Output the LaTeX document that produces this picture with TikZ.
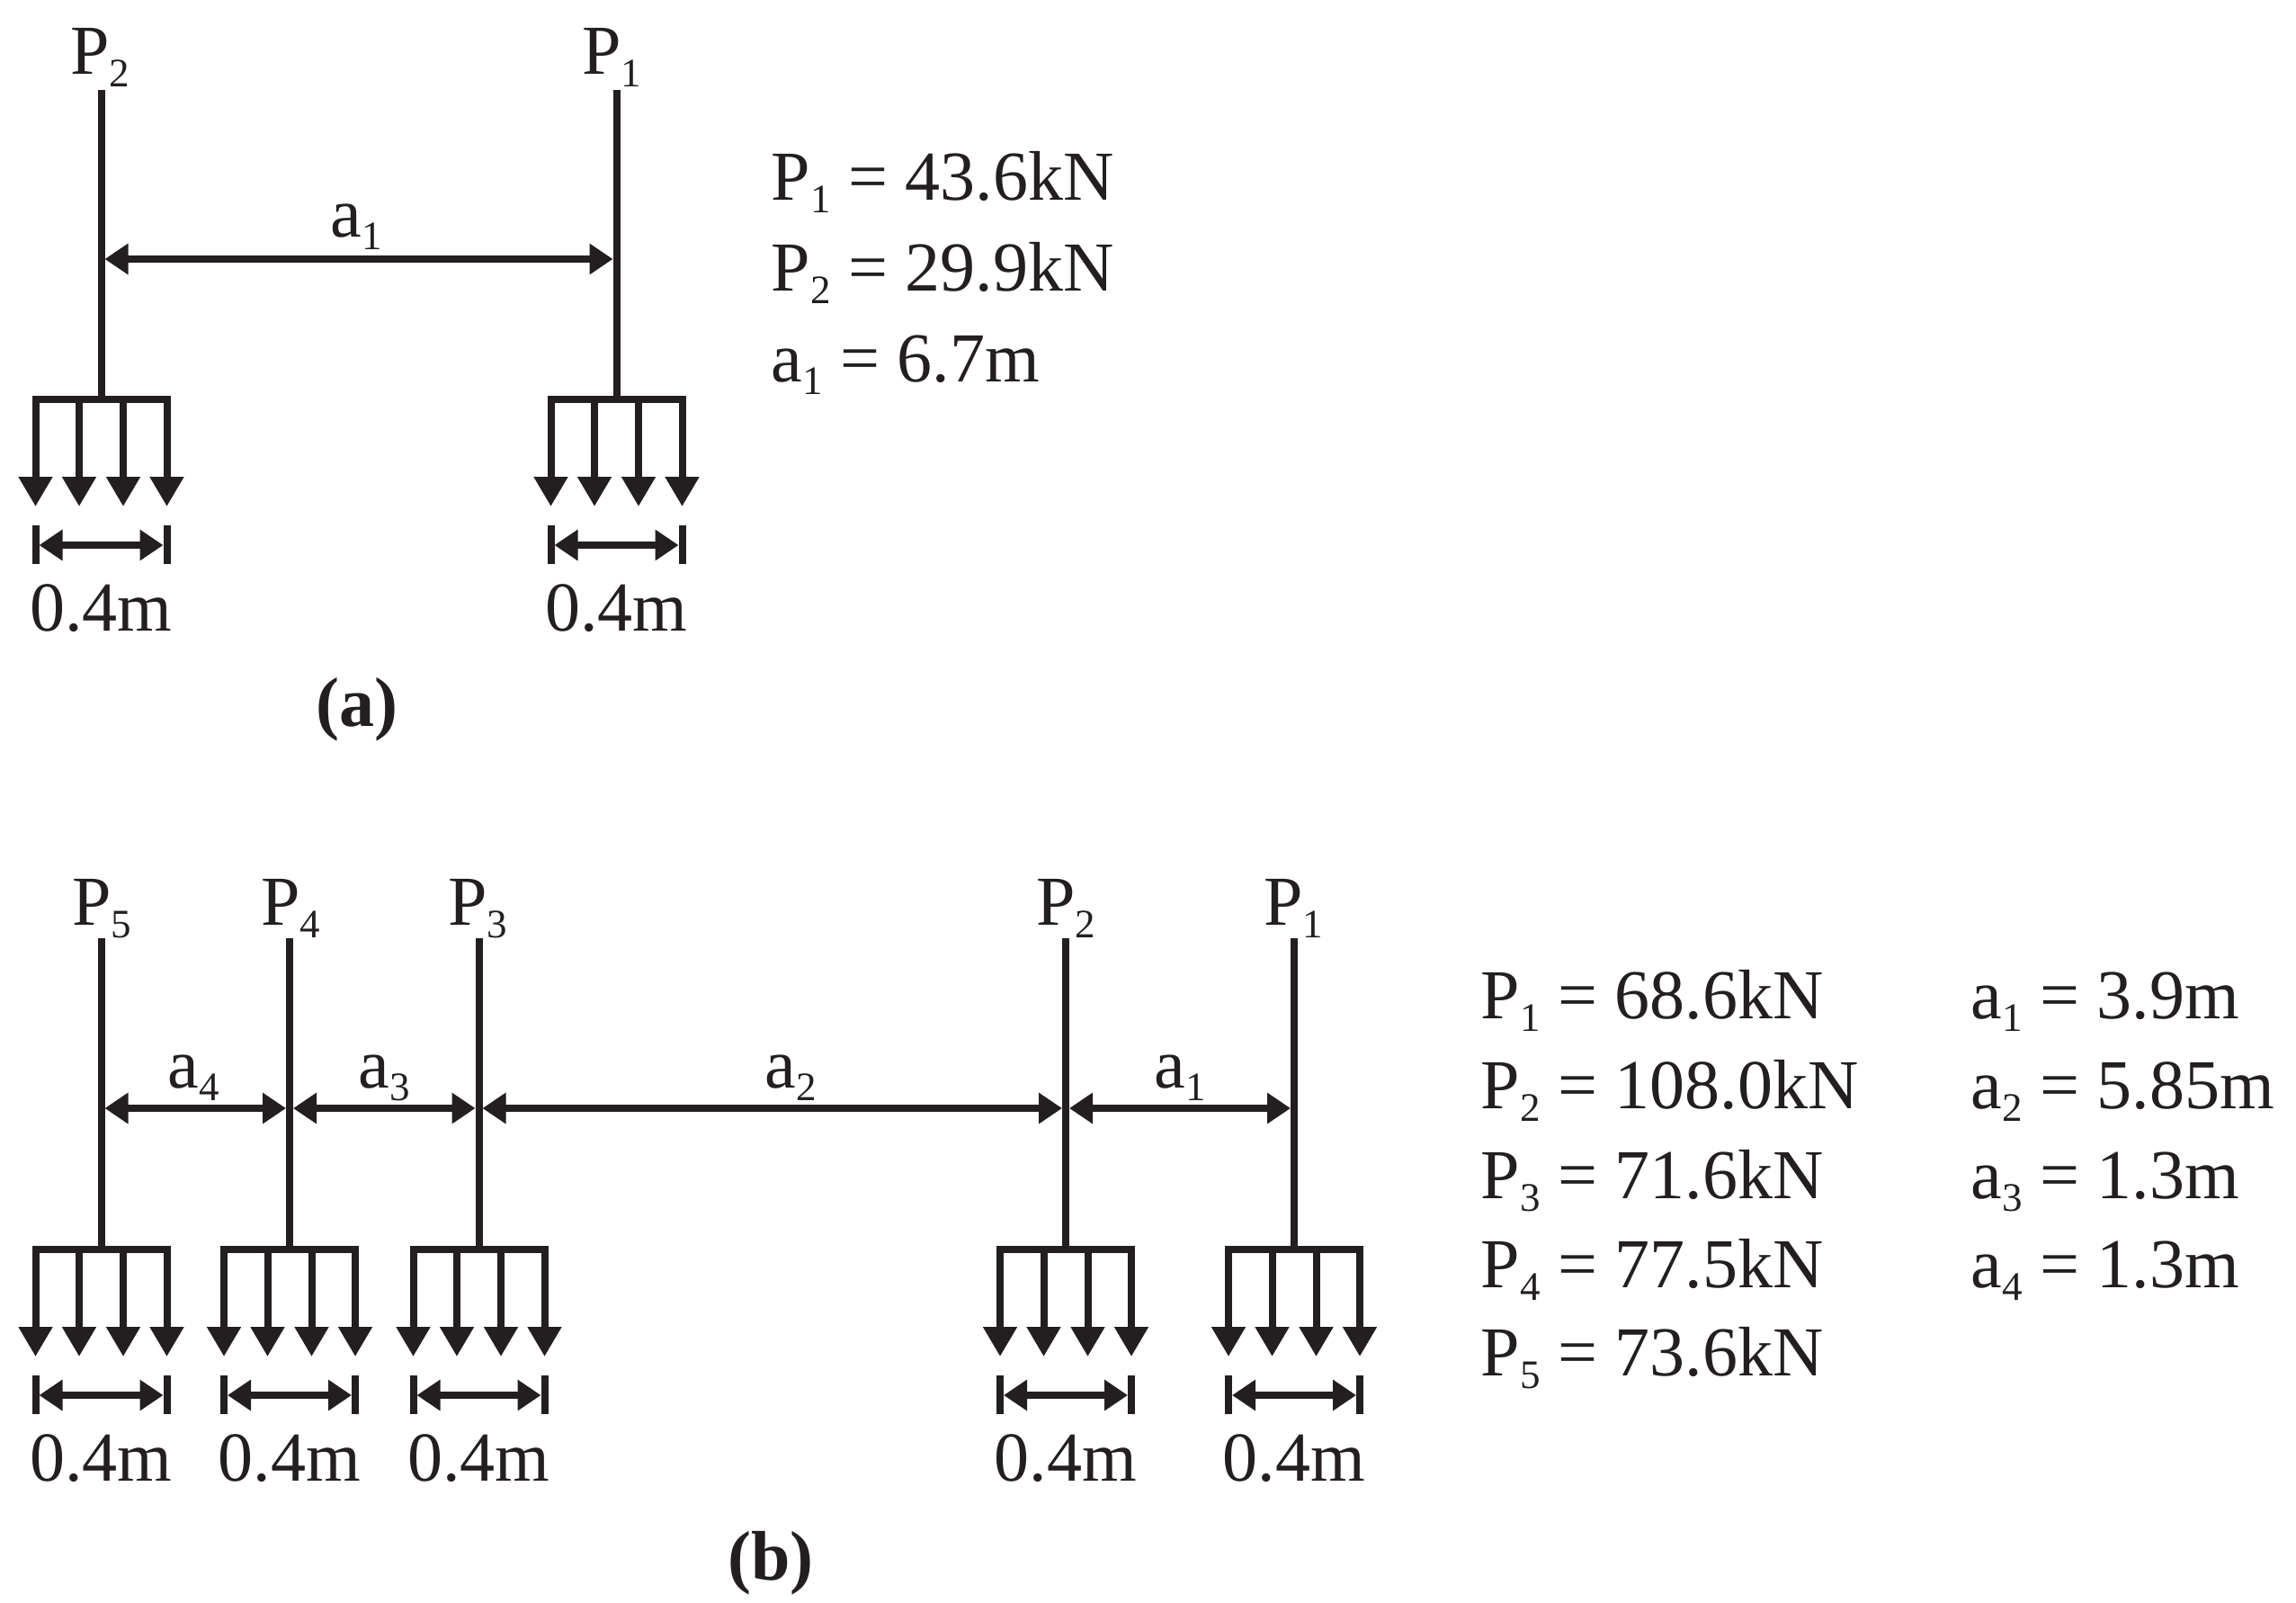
\documentclass[tikz,border=0pt]{standalone}
\usepackage{fontspec}
\setmainfont{Liberation Serif}
\usetikzlibrary{arrows.meta}
\definecolor{inkc}{HTML}{231F20}
\newcommand{\lsub}[1]{\raisebox{-0.19em}{\fontsize{12.8pt}{12.8pt}\selectfont #1}}
\tikzset{lbl/.style = {inner sep=0pt,text=inkc,font=\fontsize{22.2pt}{26pt}\selectfont}}
\tikzset{stem/.style = {draw=inkc,line width=0.08cm}}
\tikzset{prong/.style = {stem,-{Triangle[length=0.33cm,width=0.36cm]}}}
\tikzset{span/.style = {stem,{Triangle[length=0.26cm,width=0.33cm]}-{Triangle[length=0.26cm,width=0.33cm]},shorten <=0.04cm,shorten >=0.04cm}}
\tikzset{fork/.pic = {
    \coordinate (left) at (-0.73,0);
    \coordinate (right) at (0.73,0);
    \coordinate (in1) at (-0.245,0);
    \coordinate (in2) at (0.245,0);
    \coordinate (tip1) at (-0.73,-1.19);
    \coordinate (tip2) at (-0.245,-1.19);
    \coordinate (tip3) at (0.245,-1.19);
    \coordinate (tip4) at (0.73,-1.19);
    \coordinate (tl1) at (-0.73,-1.40);
    \coordinate (tl2) at (-0.73,-1.83);
    \coordinate (tr1) at (0.73,-1.40);
    \coordinate (tr2) at (0.73,-1.83);
    \coordinate (dl) at (-0.73,-1.62);
    \coordinate (dr) at (0.73,-1.62);
    \draw[stem,line cap=rect] (left) -- (right);
    \draw[prong] (left) -- (tip1);
    \draw[prong] (in1) -- (tip2);
    \draw[prong] (in2) -- (tip3);
    \draw[prong] (right) -- (tip4);
    \draw[stem] (tl1) -- (tl2);
    \draw[stem] (tr1) -- (tr2);
    \draw[span] (dl) -- (dr);
    \node[lbl,anchor=base] (width) at (0,-2.57) {0.4m};
}}
\begin{document}
\begin{tikzpicture}
    \useasboundingbox (0,0) rectangle (25.53,-17.81);
    % upper case
    \node[lbl,anchor=base] (P2a) at (1.11,-0.82) {P\lsub{2}};
    \node[lbl,anchor=base] (P1a) at (6.80,-0.82) {P\lsub{1}};
    \coordinate (a2top) at (1.125,-1.00);
    \coordinate (a1top) at (6.855,-1.00);
    \pic (a2) at (1.125,-4.44) {fork};
    \pic (a1) at (6.855,-4.44) {fork};
    \draw[stem] (a2top) -- (a2left -| a2top);
    \draw[stem] (a1top) -- (a1left -| a1top);
    \coordinate (a2mid) at (1.125,-2.88);
    \coordinate (a1mid) at (6.855,-2.88);
    \draw[span] (a2mid) -- (a1mid);
    \node[lbl,anchor=base] (a1lab) at (3.96,-2.63) {a\lsub{1}};
    \node[lbl,anchor=base] (capa) at (3.97,-8.07) {\textbf{(a)}};
    \node[lbl,anchor=base west] (va1) at (8.57,-2.22) {P\lsub{1} = 43.6kN};
    \node[lbl,anchor=base west] (va2) at (8.57,-3.23) {P\lsub{2} = 29.9kN};
    \node[lbl,anchor=base west] (va3) at (8.57,-4.24) {a\lsub{1} = 6.7m};
    % lower case
    \node[lbl,anchor=base] (P5b) at (1.13,-10.28) {P\lsub{5}};
    \node[lbl,anchor=base] (P4b) at (3.23,-10.28) {P\lsub{4}};
    \node[lbl,anchor=base] (P3b) at (5.31,-10.28) {P\lsub{3}};
    \node[lbl,anchor=base] (P2b) at (11.85,-10.28) {P\lsub{2}};
    \node[lbl,anchor=base] (P1b) at (14.38,-10.28) {P\lsub{1}};
    \coordinate (b5top) at (1.125,-10.43);
    \coordinate (b4top) at (3.22,-10.43);
    \coordinate (b3top) at (5.325,-10.43);
    \coordinate (b2top) at (11.85,-10.43);
    \coordinate (b1top) at (14.39,-10.43);
    \pic (b5) at (1.125,-13.89) {fork};
    \pic (b4) at (3.22,-13.89) {fork};
    \pic (b3) at (5.325,-13.89) {fork};
    \pic (b2) at (11.85,-13.89) {fork};
    \pic (b1) at (14.39,-13.89) {fork};
    \draw[stem] (b5top) -- (b5left -| b5top);
    \draw[stem] (b4top) -- (b4left -| b4top);
    \draw[stem] (b3top) -- (b3left -| b3top);
    \draw[stem] (b2top) -- (b2left -| b2top);
    \draw[stem] (b1top) -- (b1left -| b1top);
    \coordinate (b5mid) at (1.125,-12.32);
    \coordinate (b4mid) at (3.22,-12.32);
    \coordinate (b3mid) at (5.325,-12.32);
    \coordinate (b2mid) at (11.85,-12.32);
    \coordinate (b1mid) at (14.39,-12.32);
    \draw[span] (b5mid) -- (b4mid);
    \draw[span] (b4mid) -- (b3mid);
    \draw[span] (b3mid) -- (b2mid);
    \draw[span] (b2mid) -- (b1mid);
    \node[lbl,anchor=base] (a4lab) at (2.15,-12.09) {a\lsub{4}};
    \node[lbl,anchor=base] (a3lab) at (4.27,-12.09) {a\lsub{3}};
    \node[lbl,anchor=base] (a2lab) at (8.79,-12.09) {a\lsub{2}};
    \node[lbl,anchor=base] (a1blab) at (13.12,-12.09) {a\lsub{1}};
    \node[lbl,anchor=base] (capb) at (8.57,-17.56) {\textbf{(b)}};
    \node[lbl,anchor=base west] (vb1) at (16.46,-11.32) {P\lsub{1} = 68.6kN};
    \node[lbl,anchor=base west] (vb2) at (16.46,-12.32) {P\lsub{2} = 108.0kN};
    \node[lbl,anchor=base west] (vb3) at (16.46,-13.32) {P\lsub{3} = 71.6kN};
    \node[lbl,anchor=base west] (vb4) at (16.46,-14.31) {P\lsub{4} = 77.5kN};
    \node[lbl,anchor=base west] (vb5) at (16.46,-15.29) {P\lsub{5} = 73.6kN};
    \node[lbl,anchor=base west] (wb1) at (21.91,-11.32) {a\lsub{1} = 3.9m};
    \node[lbl,anchor=base west] (wb2) at (21.91,-12.32) {a\lsub{2} = 5.85m};
    \node[lbl,anchor=base west] (wb3) at (21.91,-13.32) {a\lsub{3} = 1.3m};
    \node[lbl,anchor=base west] (wb4) at (21.91,-14.31) {a\lsub{4} = 1.3m};
\end{tikzpicture}
\end{document}
